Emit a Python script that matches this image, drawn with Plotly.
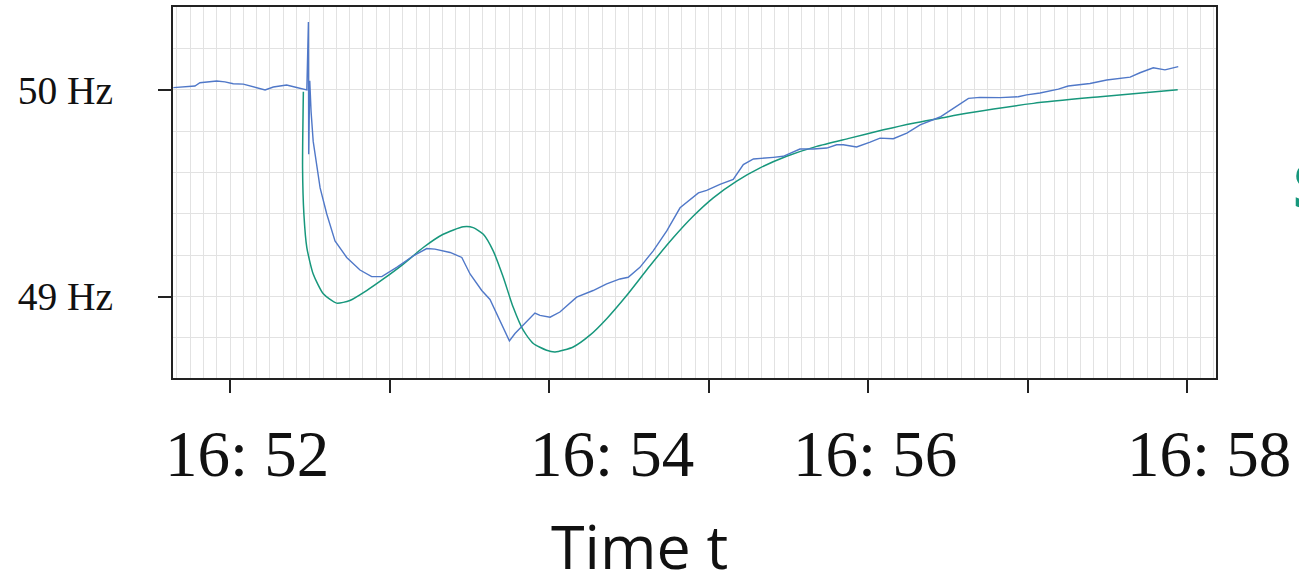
import pandas as pd
import plotly.graph_objects as go

# ---------------- data ----------------
# seconds after 16:52:00, measured frequency (Hz)
meas_t = [-21.3, -13.2, -11.3, -5.0, -1.9, 1.2, 5.0, 10.0, 13.2, 16.3, 21.3, 25.1, 28.9,
          29.5, 29.6, 30.0,
          30.5, 31.3, 33.9, 36.4, 39.5, 43.9, 48.9, 53.3, 57.1, 62.7, 69.0, 74.0, 77.1,
          82.8, 87.2, 90.3, 94.7, 97.8, 101.6, 105.1, 107.2, 111.0, 114.7, 116.6, 120.4,
          124.1, 130.4, 136.6, 141.7, 146.7, 149.8, 154.2, 159.2, 164.3, 169.3, 176.2,
          179.3, 184.3, 189.3, 193.1, 196.9, 204.4, 208.1, 214.4, 219.4, 224.5, 228.2,
          230.7, 235.7, 240.8, 244.5, 249.5, 254.6, 259.6, 267.1, 272.1, 277.8, 282.1,
          289.7, 296.5, 299.7, 304.7, 311.6, 315.3, 323.5, 329.8, 338.6, 342.3, 347.3,
          351.7, 356.7]
meas_f = [50.010, 50.018, 50.034, 50.042, 50.038, 50.029, 50.027, 50.010, 49.999, 50.013,
          50.023, 50.011, 49.999,
          50.327, 49.688, 50.043,
          49.894, 49.750, 49.525, 49.399, 49.269, 49.189, 49.128, 49.096, 49.096, 49.141,
          49.197, 49.232, 49.229, 49.213, 49.189, 49.109, 49.029, 48.986, 48.885, 48.785,
          48.821, 48.869, 48.920, 48.909, 48.900, 48.925, 48.997, 49.029, 49.061, 49.085,
          49.093, 49.141, 49.221, 49.317, 49.429, 49.501, 49.513, 49.542, 49.566, 49.638,
          49.665, 49.673, 49.678, 49.713, 49.713, 49.718, 49.734, 49.734, 49.723, 49.747,
          49.766, 49.763, 49.790, 49.830, 49.868, 49.910, 49.958, 49.963, 49.962, 49.966,
          49.975, 49.984, 50.003, 50.018, 50.030, 50.047, 50.061, 50.082, 50.106, 50.096,
          50.112]

# seconds after 16:52:00, simulated frequency (Hz)
sim_t = [27.6, 27.3, 27.8, 28.9, 31.3, 35.1, 40.1, 45.1, 51.4, 57.7, 65.2, 72.7, 80.2,
         87.8, 91.5, 95.3, 99.0, 102.8, 106.5, 110.3, 114.1, 119.1, 122.3, 129.1, 135.4,
         141.7, 149.2, 158.0, 166.8, 174.3, 181.8, 190.6, 199.4, 209.4, 220.7, 233.2,
         245.8, 257.0, 267.1, 277.1, 302.2, 327.3, 356.5]
sim_f = [49.990, 49.622, 49.398, 49.237, 49.109, 49.013, 48.968, 48.981, 49.029, 49.085,
         49.157, 49.237, 49.301, 49.337, 49.333, 49.301, 49.221, 49.093, 48.949, 48.837,
         48.773, 48.740, 48.732, 48.756, 48.813, 48.893, 49.005, 49.149, 49.285, 49.389,
         49.477, 49.558, 49.622, 49.678, 49.726, 49.766, 49.806, 49.838, 49.862, 49.886,
         49.934, 49.966, 50.000]

x_tick_labels = ["16: 52", "16: 54", "16: 56", "16: 58"]
y_tick_vals = [49, 50]
y_tick_labels = ["49 Hz", "50 Hz"]
x_title = "Time t"
side_text = "S"

# ---------------- figure ----------------
base = pd.Timestamp("2021-01-01 16:52:00")
def to_dt(ts):
    return [base + pd.to_timedelta(s, unit="s") for s in ts]

BLUE = "#5078c8"
GREEN = "#17977c"
GRID = "#e2e2e2"
AX = "#222222"

fig = go.Figure()
fig.add_trace(go.Scatter(x=to_dt(sim_t), y=sim_f, mode="lines",
                         line=dict(color=GREEN, width=1.5, shape="spline", smoothing=0.6),
                         showlegend=False, hoverinfo="skip"))
fig.add_trace(go.Scatter(x=to_dt(meas_t), y=meas_f, mode="lines",
                         line=dict(color=BLUE, width=1.4),
                         showlegend=False, hoverinfo="skip"))

x_lo = base + pd.to_timedelta(-21.44, unit="s")
x_hi = base + pd.to_timedelta(370.9, unit="s")

fig.update_xaxes(
    type="date", range=[x_lo, x_hi],
    tick0=base, dtick=60000, ticks="outside", ticklen=13, tickwidth=1.5, tickcolor=AX,
    showticklabels=False, showgrid=True, gridcolor=GRID, gridwidth=1,
    minor=dict(dtick=5000, tick0=base, showgrid=True, gridcolor=GRID, gridwidth=1, ticks=""),
    showline=True, linecolor=AX, linewidth=2, mirror=True, zeroline=False,
)
fig.update_yaxes(
    range=[48.606, 50.40],
    tickvals=y_tick_vals, ticktext=y_tick_labels,
    ticks="outside", ticklen=13, tickwidth=1.5, tickcolor=AX,
    ticklabelstandoff=37,
    tickfont=dict(family="Liberation Serif", size=39.5, color="#111111"),
    showgrid=True, gridcolor=GRID, gridwidth=1,
    minor=dict(dtick=0.2, tick0=48.8, showgrid=True, gridcolor=GRID, gridwidth=1, ticks=""),
    showline=True, linecolor=AX, linewidth=2, mirror=True, zeroline=False,
)

# tick label / title placement (paper coordinates)
label_x = [0.0714, 0.4206, 0.6735, 0.9931]
annots = []
for txt, px in zip(x_tick_labels, label_x):
    annots.append(dict(text=txt, x=px, y=-0.204, xref="paper", yref="paper",
                       xanchor="center", yanchor="middle", showarrow=False,
                       font=dict(family="Liberation Serif", size=65, color="#111111")))
annots.append(dict(text=x_title, x=0.4468, y=-0.452, xref="paper", yref="paper",
                   xanchor="center", yanchor="middle", showarrow=False,
                   font=dict(family="Open Sans", size=61, color="#111111")))
annots.append(dict(text="<b>" + side_text + "</b>", x=1.0715, y=0.52, xref="paper", yref="paper",
                   xanchor="left", yanchor="middle", showarrow=False,
                   font=dict(family="Open Sans", size=60, color=GREEN)))

fig.update_layout(
    width=1299, height=583,
    margin=dict(l=173, r=83, t=5, b=205, pad=0),
    paper_bgcolor="white", plot_bgcolor="white",
    annotations=annots,
)

fig.write_html("out.html", config={"displayModeBar": False},
               post_script="document.body.style.margin='0';document.body.style.overflow='hidden';")
